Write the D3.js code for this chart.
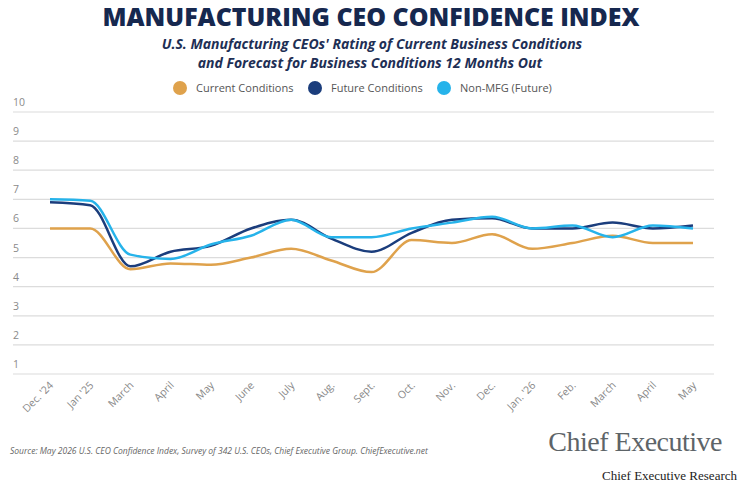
<!DOCTYPE html>
<html>
<head>
<meta charset="utf-8">
<script src="https://cdn.jsdelivr.net/npm/d3@7"></script>
<style>
  body { margin: 0; background: #fff; }
  svg text { font-family: "Open Sans", "Noto Sans", sans-serif; }
</style>
</head>
<body>
<svg width="741" height="486"></svg>
<script>
var months = ["Dec. '24", "Jan '25", "March", "April", "May", "June", "July", "Aug.", "Sept.",
              "Oct.", "Nov.", "Dec.", "Jan. '26", "Feb.", "March", "April", "May"];
var currentConditions = [6.0, 6.0, 4.6, 4.8, 4.75, 5.0, 5.3, 4.9, 4.5, 5.6, 5.5, 5.8, 5.3, 5.5, 5.75, 5.5, 5.5];
var futureConditions  = [6.9, 6.8, 4.7, 5.2, 5.4, 6.0, 6.3, 5.65, 5.2, 5.85, 6.3, 6.35, 6.0, 6.0, 6.2, 6.0, 6.1];
var nonMfgFuture      = [7.0, 6.95, 5.1, 4.95, 5.45, 5.75, 6.3, 5.7, 5.7, 6.0, 6.2, 6.4, 6.0, 6.1, 5.7, 6.1, 6.0];
var yTicks = [1, 2, 3, 4, 5, 6, 7, 8, 9, 10];

var series = [
  {name: "Current Conditions", values: currentConditions, color: "#dfa24c"},
  {name: "Future Conditions", values: futureConditions, color: "#1b3d7c"},
  {name: "Non-MFG (Future)", values: nonMfgFuture, color: "#26b3ea"}
];

var svg = d3.select("svg");

var x = d3.scalePoint().domain(d3.range(months.length)).range([50, 693]);
var y = d3.scaleLinear().domain([1, 10]).range([374, 112]);

// titles
svg.append("text")
  .attr("x", 371).attr("y", 26)
  .attr("text-anchor", "middle")
  .attr("font-size", 24).attr("font-weight", 800)
  .attr("fill", "#16284f")
  .attr("textLength", 537).attr("lengthAdjust", "spacingAndGlyphs")
  .text("MANUFACTURING CEO CONFIDENCE INDEX");

svg.append("text")
  .attr("x", 372).attr("y", 49)
  .attr("text-anchor", "middle")
  .attr("font-size", 14).attr("font-weight", 700).attr("font-style", "italic")
  .attr("fill", "#1e2f55")
  .text("U.S. Manufacturing CEOs' Rating of Current Business Conditions");

svg.append("text")
  .attr("x", 370).attr("y", 68)
  .attr("text-anchor", "middle")
  .attr("font-size", 14).attr("font-weight", 700).attr("font-style", "italic")
  .attr("fill", "#1e2f55")
  .text("and Forecast for Business Conditions 12 Months Out");

// legend
var legendX = [180, 315, 444];
var legend = svg.append("g").selectAll("g")
  .data(series).enter().append("g")
  .attr("transform", function(d, i) { return "translate(" + legendX[i] + ",88)"; });
legend.append("circle").attr("r", 7).attr("fill", function(d) { return d.color; });
legend.append("text")
  .attr("x", 16).attr("y", 4)
  .attr("font-size", 11).attr("fill", "#555")
  .text(function(d) { return d.name; });

// grid + y labels
var grid = svg.append("g");
grid.selectAll("line").data(yTicks).enter().append("line")
  .attr("x1", 13).attr("x2", 714)
  .attr("y1", function(d) { return y(d); })
  .attr("y2", function(d) { return y(d); })
  .attr("stroke", "#dcdcdc").attr("stroke-width", 1.2);
grid.selectAll("text").data(yTicks).enter().append("text")
  .attr("x", 13)
  .attr("y", function(d) { return y(d) - 6; })
  .attr("font-size", 10.5).attr("fill", "#8a8a8a")
  .text(function(d) { return d; });

// x labels
svg.append("g").selectAll("text")
  .data(months).enter().append("text")
  .attr("transform", function(d, i) { return "translate(" + (x(i) + 4) + ",386) rotate(-45)"; })
  .attr("text-anchor", "end")
  .attr("font-size", 10.5).attr("fill", "#888")
  .text(function(d) { return d; });

// lines
var line = d3.line()
  .x(function(d, i) { return x(i); })
  .y(function(d) { return y(d); })
  .curve(d3.curveMonotoneX);

svg.append("g").selectAll("path")
  .data(series).enter().append("path")
  .attr("d", function(d) { return line(d.values); })
  .attr("fill", "none")
  .attr("stroke", function(d) { return d.color; })
  .attr("stroke-width", 2.5);

// footer
svg.append("text")
  .attr("x", 10).attr("y", 454)
  .attr("font-size", 8.5).attr("font-style", "italic").attr("fill", "#666")
  .text("Source: May 2026 U.S. CEO Confidence Index, Survey of 342 U.S. CEOs, Chief Executive Group. ChiefExecutive.net");

svg.append("text")
  .attr("x", 722).attr("y", 451)
  .attr("text-anchor", "end")
  .style("font-family", "'Liberation Serif', 'DejaVu Serif', serif")
  .attr("font-size", 28).attr("fill", "#5d6468")
  .attr("letter-spacing", -0.5)
  .text("Chief Executive");

svg.append("text")
  .attr("x", 737).attr("y", 480)
  .attr("text-anchor", "end")
  .style("font-family", "'Liberation Serif', 'DejaVu Serif', serif")
  .attr("font-size", 13).attr("fill", "#222")
  .text("Chief Executive Research");
</script>
</body>
</html>
